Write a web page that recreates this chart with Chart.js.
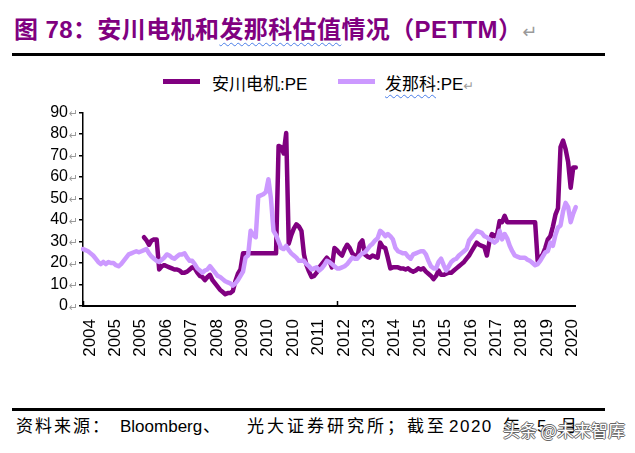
<!DOCTYPE html>
<html>
<head>
<meta charset="utf-8">
<script src="https://cdn.jsdelivr.net/npm/chart.js@4"></script>
<style>
  body { margin: 0; width: 635px; height: 453px; background: #fff; position: relative; overflow: hidden;
         font-family: "Liberation Sans", Arial, "Noto Sans CJK SC", sans-serif; }
  .abs { position: absolute; white-space: nowrap; }
  .wavy { text-decoration: underline wavy #4a7ee8; text-decoration-thickness: 1px; text-underline-offset: 4px; }
  .ret { color: #9a9a9a; font-weight: normal; font-family: "DejaVu Sans", sans-serif; font-size: 0.75em; }
  .rule { position: absolute; background: #000; }
  #footer .abs { top: 0; color: #000; font-size: 17px; line-height: 24px; }
</style>
</head>
<body>
<div class="abs" id="title" style="left:14px;top:10px;font-size:24px;letter-spacing:0.4px;font-weight:bold;color:#800080;">图 78：安川电机和<span class="wavy">发那科估值</span>情况（PETTM）<span class="ret">↵</span></div>
<div class="rule" style="left:12px;top:53px;width:593px;height:3px;"></div>

<div id="legend"></div>

<div class="abs" style="left:0;top:92px;width:578px;height:274px;overflow:hidden;">
  <canvas id="myChart" width="599" height="274"></canvas>
</div>

<div class="rule" style="left:12px;top:408px;width:593px;height:3px;"></div>
<div id="footer" class="abs" style="left:0;top:415px;">
  <span class="abs" style="left:16px;letter-spacing:2px;">资料来源：</span>
  <span class="abs" style="left:120px;">Bloomberg</span>
  <span class="abs" style="left:203px;">、</span>
  <span class="abs" style="left:247px;letter-spacing:3px;">光大证券研究所；截至</span>
  <span class="abs" style="left:449px;letter-spacing:1.5px;">2020</span>
  <span class="abs" style="left:503px;">年</span>
  <span class="abs" style="left:537px;">5</span>
  <span class="abs" style="left:560px;">月</span>
</div>
<div class="abs" style="left:503px;top:417px;font-size:17px;color:#fff;font-family:'Noto Sans CJK SC';text-shadow:1px 0 #666,-1px 0 #666,0 1px #666,0 -1px #666;">头条 @未来智库</div>

<script>
// Datos: meses desde 2004-03 hasta 2020-05
const startYear = 2004;
const startMonth = 3;
const monthCount = 195;

const tickLabels = ['2004', '2005', '2005', '2006', '2007', '2008', '2009', '2010', '2010', '2011',
                    '2012', '2013', '2014', '2015', '2015', '2016', '2017', '2018', '2019', '2020'];

const seriesNames = ['安川电机:PE', '发那科:PE'];
const seriesColors = ['#800080', '#CC99FF'];

// 安川电机 PE
const yaskawaPE = [
  null, null, null, null, null, null, null, null, null, null,
  null, null, null, null, null, null, null, null, null, null,
  null, null, null, null, 32, 30.5, 28.5, 30.5, 31, 31,
  17, 18.5, 19, 18.5, 18, 17.5, 17, 17, 16.5, 15.5,
  15.5, 16, 17, 18, 17.5, 15.5, 14, 13.5, 12, 13.5,
  14.5, 12, 10.5, 9, 7.5, 6.5, 5.5, 6, 6, 7,
  11.5, 15, 17, 24.5, 24.5, 24.5, 24.5, 24.5, 24.5, 24.5,
  24.5, 24.5, 24.5, 24.5, 24.5, 24.5, 24.5, 74.5, 74, 71,
  80.5, 29, 33, 36, 38, 37, 35, 24, 19, 16,
  13.5, 14, 15.5, 18, 19.5, 21, 22.5, 21, 18, 27,
  26, 24.5, 23.5, 26.5, 28.5, 27, 24.5, 23.5, 22.5, 29,
  30.5, 24, 23, 22.5, 23.5, 23, 22.5, 29.5, 27.5, 27,
  22.5, 17.5, 18, 18, 18, 17.5, 17.5, 17, 17.5, 16.5,
  16, 16.5, 17.5, 17, 17.5, 16, 15, 14, 12.5, 14,
  16.5, 14.5, 14.5, 15, 15.5, 15.5, 16.5, 17.5, 18.5, 19.5,
  20.5, 22, 23.5, 25.5, 27.5, 29.5, 28.5, 28, 27.5, 23.5,
  30, 33.5, 32.5, 33, 39.5, 39, 42, 39, 39, 39,
  39, 39, 39, 39, 39, 39, 39, 39, 39, 21,
  22.5, 24, 27, 31, 32.5, 37, 42.5, 45.5, 74, 77,
  73, 67, 55, 64.5, 64.5
];

// 发那科 PE
const fanucPE = [
  26.5, 26, 25.5, 24.5, 23.5, 22, 20.5, 19.5, 20.5, 19.5,
  20.5, 20, 20, 19, 18.5, 19.5, 21, 22.5, 24, 24.5,
  25, 25.5, 25, 25.5, 26, 26.5, 24.5, 23, 22, 21,
  20.5, 21.5, 22.5, 24, 23.5, 22.5, 22, 23, 24, 24,
  24.5, 22.5, 21, 21, 19.5, 17.5, 16.5, 15.5, 16.5, 17,
  18.5, 17, 15.5, 14, 13.5, 12.5, 11.5, 11, 10.5, 9.5,
  10.5, 12, 14, 16, 22.5, 23.5, 35, 33, 32, 51,
  51.5, 52, 53, 59, 50, 35, 33, 30, 27, 26.5,
  28, 26, 24.5, 23.5, 22.5, 21, 21, 21, 19.5, 18.5,
  17, 17.5, 18, 16.5, 17.5, 19, 21, 20.5, 19.5, 18.5,
  17.5, 17.5, 18, 18.5, 19.5, 21, 22.5, 22, 22, 23.5,
  24.5, 25, 26.5, 28, 29, 30.5, 31.5, 35, 34, 32.5,
  33.5, 32.5, 31, 27, 25.5, 25, 24.5, 24.5, 23, 22,
  24, 24.5, 25, 25.5, 25.5, 24, 21, 18.5, 17.5, 17.5,
  20.5, 22, 19, 16.5, 18.5, 20.5, 21.5, 22, 23.5, 24.5,
  25.5, 26.5, 30.5, 32, 33.5, 35, 34.5, 34, 32.5, 32,
  31, 30.5, 29.5, 30.5, 35, 31, 33.5, 31.5, 28, 25.5,
  23.5, 23, 22.5, 22.5, 22.5, 21.5, 21, 20, 19, 19.5,
  21, 23, 25, 25.5, 29.5, 28, 33, 36.5, 37.5, 44,
  48, 46, 39, 43, 46
];

// Categorías mensuales
const months = [];
for (let i = 0; i < monthCount; i++) {
  const m = startMonth - 1 + i;
  months.push((startYear + Math.floor(m / 12)) + '-' + String(m % 12 + 1).padStart(2, '0'));
}

// Leyenda en HTML
const legendPos = [{ line: 163, text: 212 }, { line: 338, text: 385 }];
const legend = document.getElementById('legend');
seriesNames.forEach((name, i) => {
  const bar = document.createElement('div');
  bar.className = 'rule';
  bar.style.cssText = `left:${legendPos[i].line}px;top:79px;width:37px;height:5px;background:${seriesColors[i]};`;
  legend.appendChild(bar);
  const txt = document.createElement('div');
  txt.className = 'abs';
  txt.style.cssText = `left:${legendPos[i].text}px;top:70px;font-size:17px;color:#000;`;
  if (i === 1) {
    txt.innerHTML = '<span class="wavy">发那科</span>:PE<span class="ret">↵</span>';
  } else {
    txt.textContent = name;
  }
  legend.appendChild(txt);
});

// Marcas del eje x hacia dentro y flechas grises del eje y
const axisMarks = {
  id: 'axisMarks',
  afterDraw(chart) {
    const ctx = chart.ctx;
    const x = chart.scales.x;
    const y = chart.scales.y;
    ctx.save();
    ctx.strokeStyle = '#000';
    ctx.lineWidth = 1.5;
    x.ticks.forEach((t, i) => {
      if (i % 10 !== 0) return;
      const px = Math.round(x.getPixelForTick(i)) + 0.5;
      ctx.beginPath();
      ctx.moveTo(px, x.top);
      ctx.lineTo(px, x.top - 5);
      ctx.stroke();
    });
    ctx.fillStyle = '#9a9a9a';
    ctx.font = '11px "DejaVu Sans"';
    ctx.textBaseline = 'middle';
    y.ticks.forEach((t, i) => {
      ctx.fillText('↵', y.right - 14, y.getPixelForTick(i) + 2);
    });
    ctx.restore();
  }
};

const config = {
  type: 'line',
  data: {
    labels: months,
    datasets: [
      { label: seriesNames[0], data: yaskawaPE, borderColor: seriesColors[0], backgroundColor: seriesColors[0], order: 1 },
      { label: seriesNames[1], data: fanucPE, borderColor: seriesColors[1], backgroundColor: seriesColors[1], order: 0 }
    ]
  },
  options: {
    responsive: false,
    animation: false,
    layout: { padding: { top: 4, right: 0, left: 0, bottom: 0 } },
    elements: {
      line: { borderWidth: 4.5, tension: 0, borderJoinStyle: 'round', borderCapStyle: 'round' },
      point: { radius: 0 }
    },
    plugins: { legend: { display: false }, tooltip: { enabled: false } },
    scales: {
      x: {
        offset: false,
        grid: { drawOnChartArea: false, drawTicks: false },
        border: { color: '#000', width: 2 },
        afterFit: (scale) => { scale.height = 60; },
        ticks: {
          autoSkip: false,
          minRotation: 90,
          maxRotation: 90,
          padding: 13,
          labelOffset: 7,
          color: '#000',
          font: { family: 'Liberation Sans', size: 17 },
          callback: (value, index) => (index % 10 === 0 ? tickLabels[index / 10] : null)
        }
      },
      y: {
        min: 0,
        max: 90,
        grid: { drawOnChartArea: false, drawTicks: true, tickLength: 4, color: '#000', lineWidth: 1.5 },
        border: { color: '#000', width: 1.5 },
        afterFit: (scale) => { scale.width = 83; },
        ticks: {
          stepSize: 10,
          autoSkip: false,
          padding: 11,
          color: '#000',
          font: { family: 'Liberation Sans', size: 16 }
        }
      }
    }
  },
  plugins: [axisMarks]
};

new Chart(document.getElementById('myChart'), config);
</script>
</body>
</html>
